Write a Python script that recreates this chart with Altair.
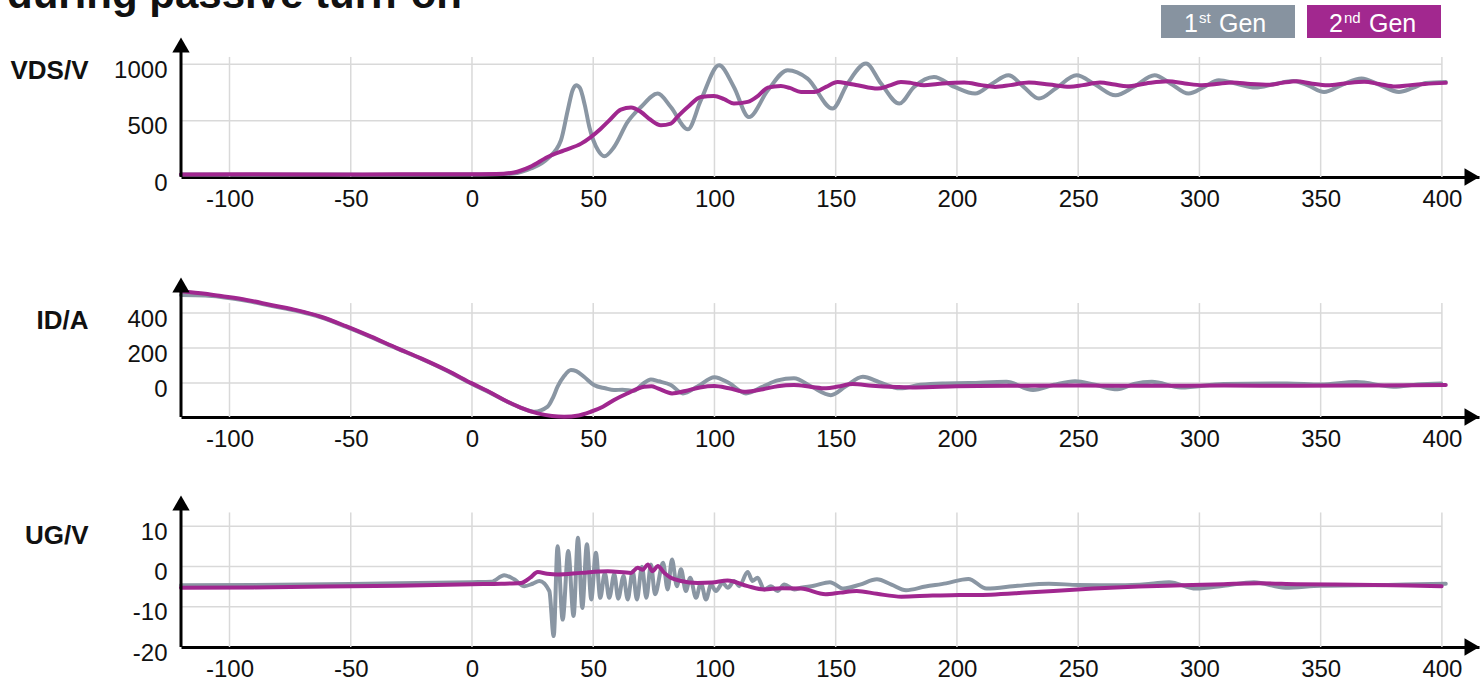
import altair as alt
import pandas as pd

FONT = "Liberation Sans"
GRAY = "#8a96a3"
PURPLE = "#a0278f"
GRID = "#d9d9d9"
INK = "#111111"

T_MIN, T_MAX = -120, 415.3
X_TICKS = [-100, -50, 0, 50, 100, 150, 200, 250, 300, 350, 400]
GRID_X_END = 400

# ---------------- VDS / V ----------------
VDS_T_1 = [-120, -90, -60, -30, 0, 10, 17, 24.3, 31.2, 36.7, 39.5, 41.5, 43, 44.5, 46.5, 48.4, 52, 54.6,
           58.6, 64.2, 69.7, 76.6, 82, 89, 94.4, 101.9, 108, 114.2, 122, 130.2, 138.4, 148.7, 154.9, 162.5,
           168.7, 176.2, 182.3, 190.5, 199, 207.5, 214, 221.3, 227.5, 233.8, 241, 249.3, 257, 265.4, 273,
           281.5, 288, 295.5, 302, 308, 315, 323, 331, 338.8, 345, 351.4, 359, 366.9, 374, 382.3, 388,
           393.4, 401.6]
VDS_V_1 = [22, 20, 22, 20, 22, 24, 30, 75, 163, 326, 592, 770, 814, 790, 640, 444, 237, 184,
           266, 488, 621, 740, 621, 423, 681, 991, 799, 532, 769, 947, 873, 607, 829, 1006,
           829, 651, 799, 887, 799, 740, 820, 902, 800, 696, 790, 902, 820, 725, 800,
           902, 830, 740, 800, 858, 830, 793, 825, 852, 810, 754, 820, 873, 820, 754, 790,
           834, 843]
VDS_T_2 = [-120, -90, -60, -30, 0, 10, 17.3, 24, 31.2, 38, 45, 53, 57, 61.4, 65.6, 69.7, 73.5, 77.9, 82,
           85, 89, 94.4, 99.8, 104, 108, 113.7, 118, 122, 127.4, 131, 135.7, 141.2, 146, 150.8, 155,
           159, 167.3, 172, 176.9, 181, 186.4, 192, 199, 203, 210, 215.7, 222, 229.7, 238, 246.5, 252,
           259, 265, 270, 278, 287, 294, 301, 307, 313.6, 321, 329, 334, 340, 346, 352.9, 360, 368,
           374, 380.8, 387, 393, 401.6]
VDS_V_2 = [22, 24, 22, 24, 24, 26, 40, 90, 177, 236, 296, 426, 510, 598, 616, 577, 510, 459, 474,
           540, 621, 710, 719, 690, 651, 666, 720, 793, 808, 790, 754, 754, 800, 843, 830,
           814, 784, 810, 843, 835, 814, 825, 837, 838, 815, 799, 815, 838, 820, 800, 815,
           838, 820, 805, 830, 849, 830, 814, 825, 838, 825, 818, 835, 850, 830, 814, 830, 844,
           825, 802, 815, 825, 835]

# ---------------- ID / A ----------------
ID_T_1 = [-120, -110, -103.5, -93, -82.9, -72, -62.3, -52, -41.6, -31, -21, -10, 0, 7, 13.3, 20, 25.6,
          31.2, 33.5, 35.3, 38, 40.8, 43, 46.2, 50.3, 55, 58.6, 62, 66.8, 70, 73.8, 77, 82, 87, 93, 100,
          106, 113, 120, 126, 132.8, 140, 148, 154, 161.2, 168, 176.5, 185, 194, 205, 220.4, 231.4,
          240, 248.7, 257, 266.2, 273, 280.4, 292.4, 310, 336.2, 350, 364.7, 380, 390, 399.7]
ID_V_1 = [503, 500, 492, 470, 442, 412, 376, 322, 262, 198, 139, 68, -5, -52, -98, -140, -164,
          -135, -80, -21, 40, 74, 68, 36, -11, -30, -40, -38, -44, -10, 21, 10, -11, -59, -20, 33,
          0, -59, -20, 15, 27, -20, -69, -20, 36, 5, -30, -10, -2, 0, 7, -40,
          -10, 11, -10, -36, -5, 7, -25, -5, -2, -8, 6, -21, -8, -2]
ID_T_2 = [-120, -110, -103.5, -93, -82.9, -72, -62.3, -52, -41.6, -31, -21, -10, 0, 7, 13.3, 20, 27.1,
          33, 38, 44, 49, 54, 58.6, 64, 71, 74, 76.6, 82.5, 88, 94, 100, 106, 113, 120, 126, 132.8,
          140, 146, 151, 157, 165, 175, 183, 200, 220, 250, 280, 310, 340, 370, 401.6]
ID_V_2 = [525, 510, 497, 475, 446, 415, 379, 325, 265, 200, 141, 70, -2, -50, -97, -140, -173,
          -188, -192, -185, -164, -135, -97, -60, -21, -18, -30, -59, -45, -25, -17, -30, -50, -35, -18, -11,
          -22, -30, -20, -6, -15, -22, -25, -18, -15, -14, -16, -14, -16, -14, -11]

# ---------------- UG / V ----------------
UG_T_1 = [-120, -90, -60, -30, 0, 8, 13.3, 17.4, 21.6, 25, 27.8, 31.9, 33.7, 35.3, 37.4, 39.7, 41.9, 43.7,
          45.5, 47.4, 49.2, 51.1, 52.9, 54.8, 56.6, 58.7, 60.3, 62.5, 64.2, 66.3, 68, 70.1, 71.9, 73.8,
          75.5, 78.8, 80.7, 82.5, 84.5, 86.2, 88.2, 90, 92.4, 94.4, 96.5, 98.6, 100.6, 103.4, 105.5,
          108.2, 110.2, 113.7, 115.7, 117.8, 120.5, 123.3, 126, 128.8, 132.9, 135.7, 141, 147.6, 153.2,
          160, 167, 173, 179, 187, 195.5, 204.7, 212.2, 225, 237.9, 250, 267.3, 280, 287.5, 298.6, 310,
          322.5, 335.5, 350, 366.7, 385, 401.6]
UG_V_1 = [-4.7, -4.6, -4.4, -4.2, -3.9, -3.8, -2.2, -3.2, -4.9, -4.3, -3.6, -6.1, -17.3, 5.0, -13.2, 3.8, -12.3, 7.1,
          -10.3, 5.5, -8.2, 3.4, -7.8, -1.6, -7.8, -1.9, -8.0, -2.4, -8.2, -1.2, -8.2, -0.1, -7.8, 0.5,
          -6.9, 0.9, -5.7, 1.7, -4.9, -0.7, -6.1, -2.8, -7.8, -4.1, -8.2, -4.5, -6.1, -4.1, -5.3,
          -3.6, -4.9, -1.4, -3.6, -2.8, -5.7, -4.9, -6.1, -4.5, -5.7, -5.3, -4.8, -3.9, -5.5,
          -4.5, -3.2, -4.5, -5.9, -5.0, -4.2, -3.1, -5.5, -4.8, -4.3, -4.6, -4.7, -4.3, -3.9, -5.5, -4.8,
          -3.9, -5.3, -4.8, -4.7, -4.5, -4.3]
UG_T_2 = [-120, -90, -60, -30, 0, 12, 20.2, 24, 27.1, 31, 35.3, 45, 56, 65.6, 68.3, 70.5, 72.5, 74.5, 76.6,
          79.3, 82, 86.2, 93, 99, 105.4, 113.7, 120.5, 127.4, 135.7, 145.8, 152, 158.7, 167, 177.1, 190,
          201, 214, 228.7, 256.3, 275, 293, 310, 324.4, 340, 355.7, 380, 399.9]
UG_V_2 = [-5.3, -5.2, -5.0, -4.8, -4.4, -4.3, -4.1, -2.8, -1.4, -1.8, -2.0, -1.6, -1.2, -1.6, -0.3, -0.8, 0.5, -1.2, 0.1,
          -1.6, -2.8, -3.6, -4.1, -4.0, -3.5, -4.9, -5.7, -5.4, -5.5, -6.9, -6.5, -6.1, -6.8, -7.5, -7.2,
          -7.1, -7.0, -6.5, -5.5, -5.0, -4.7, -4.4, -4.2, -4.4, -4.5, -4.7, -4.9]

W = 1298
ONE = pd.DataFrame({"k": [0]})
PLAIN = "'' + datum.value"


def panel(t1, v1, t2, v2, ydomain, yticks, ygrid, grid_top, height, title, title_y, arrow_y, extra=None):
    xscale = alt.Scale(domain=[T_MIN, T_MAX], nice=False, zero=False)
    yscale = alt.Scale(domain=ydomain, nice=False, zero=False)
    xaxis = alt.Axis(values=X_TICKS, ticks=False, grid=False, domain=True, domainColor="black",
                     domainWidth=3, labelFontSize=24, labelFont=FONT, labelColor=INK, labelPadding=10,
                     title=None, labelFlush=False, labelExpr=PLAIN)
    yaxis = alt.Axis(values=yticks, ticks=False, grid=False, domain=False, labelFontSize=24,
                     labelFont=FONT, labelColor=INK, labelPadding=14, labelOffset=6, title=title,
                     labelExpr=PLAIN,
                     titleAngle=0, titleAlign="right", titleBaseline="middle", titleX=-93,
                     titleY=title_y, titleFont=FONT, titleFontSize=26, titleFontWeight="bold",
                     titleColor=INK)

    vgrid = alt.Chart(pd.DataFrame({"t": X_TICKS, "a": ydomain[0], "b": grid_top})).mark_rule(
        color=GRID, strokeWidth=1.5).encode(
        x=alt.X("t:Q", scale=xscale, axis=xaxis), y=alt.Y("a:Q", scale=yscale, axis=yaxis), y2="b:Q")
    hgrid = alt.Chart(pd.DataFrame({"v": ygrid, "a": T_MIN, "b": GRID_X_END})).mark_rule(
        color=GRID, strokeWidth=1.5).encode(
        y=alt.Y("v:Q", scale=yscale, axis=yaxis), x=alt.X("a:Q", scale=xscale, axis=xaxis), x2="b:Q")

    l1 = alt.Chart(pd.DataFrame({"t": t1, "v": v1})).mark_line(
        color=GRAY, strokeWidth=4, interpolate="monotone", strokeCap="round").encode(
        x=alt.X("t:Q", scale=xscale, axis=xaxis), y=alt.Y("v:Q", scale=yscale, axis=yaxis))
    l2 = alt.Chart(pd.DataFrame({"t": t2, "v": v2})).mark_line(
        color=PURPLE, strokeWidth=4, interpolate="monotone", strokeCap="round").encode(
        x=alt.X("t:Q", scale=xscale, axis=xaxis), y=alt.Y("v:Q", scale=yscale, axis=yaxis))

    yline = alt.Chart(ONE).mark_rule(color="black", strokeWidth=3).encode(
        x=alt.value(0), y=alt.value(arrow_y + 6), y2=alt.value(height))
    up = alt.Chart(ONE).mark_point(shape="triangle-up", filled=True, size=300, color="black",
                                   opacity=1).encode(x=alt.value(0), y=alt.value(arrow_y + 7))
    right = alt.Chart(ONE).mark_point(shape="triangle-right", filled=True, size=300, color="black",
                                      opacity=1).encode(x=alt.value(W - 7), y=alt.value(height))
    layers = [vgrid, hgrid, l1, l2, yline, up, right]
    if extra:
        layers += extra
    return alt.layer(*layers).properties(width=W, height=height)


def txt(s, x, y, size, color, align="left", weight="normal"):
    return alt.Chart(ONE).mark_text(text=s, align=align, baseline="alphabetic", fontSize=size,
                                    font=FONT, fontWeight=weight, color=color).encode(
        x=alt.value(x), y=alt.value(y))


def box(x0, x1, color):
    return alt.Chart(ONE).mark_rect(color=color).encode(
        x=alt.value(x0), x2=alt.value(x1), y=alt.value(-33), y2=alt.value(0))


top_extra = [
    txt("during passive turn-on", -174, -30, 42, INK, weight="bold"),
    box(980, 1114, "#8793a0"),
    box(1126, 1260, "#a2288f"),
    txt("1", 1017, -6, 25, "white", align="right"),
    txt("st", 1018, -15, 15, "white"),
    txt("Gen", 1038, -6, 25, "white"),
    txt("2", 1162, -6, 25, "white", align="right"),
    txt("nd", 1163, -15, 15, "white"),
    txt("Gen", 1188, -6, 25, "white"),
]

p1 = panel(VDS_T_1, VDS_V_1, VDS_T_2, VDS_V_2, [0, 1233], [0, 500, 1000], [500, 1000], 1065,
           139, "VDS/V", 32, 0, top_extra)
p2 = panel(ID_T_1, ID_V_1, ID_T_2, ID_V_2, [-194, 834.6], [0, 200, 400], [0, 200, 400], 457,
           180, "ID/A", 83, 41)
p3 = panel(UG_T_1, UG_V_1, UG_T_2, UG_V_2, [-20, 22.2], [-20, -10, 0, 10], [-10, 0, 10], 13.4,
           170, "UG/V", 58, 19)

chart = alt.vconcat(p1, p2, p3, spacing=60, bounds="flush").resolve_scale(
    x="independent", y="independent").properties(
    padding={"left": 7, "top": -26, "right": 0, "bottom": 0}, background="white").configure_view(
    stroke=None)

chart.save("out.html", embed_options={"renderer": "svg", "actions": False})
